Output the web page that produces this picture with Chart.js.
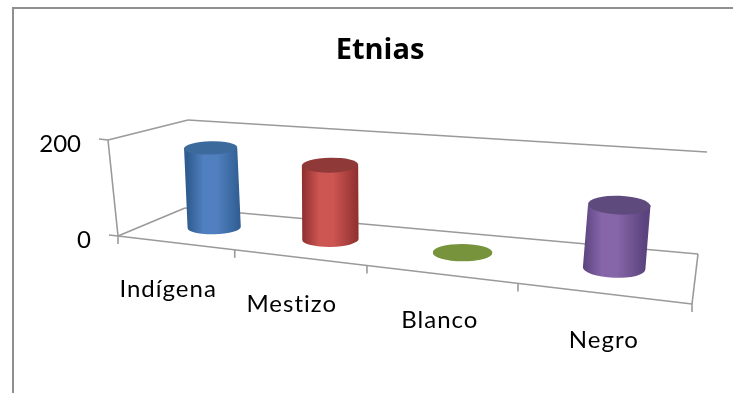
<!DOCTYPE html>
<html>
<head>
<meta charset="utf-8">
<title>Etnias</title>
<script src="https://cdn.jsdelivr.net/npm/chart.js@4"></script>
<style>
  html, body { margin: 0; padding: 0; background: #fff; overflow: hidden; }
  canvas { display: block; }
</style>
</head>
<body>
<canvas id="chart" width="733" height="393"></canvas>
<script>
const categories = ['Indígena', 'Mestizo', 'Blanco', 'Negro'];
const values = [172, 155, 1, 122];
const yTicks = [0, 200];

// center, edge and cap shade of each cylinder
const barColors = ['#5080bf', '#cd5552', '#7f9a48', '#8665a8'];
const edgeColors = ['#2f5c90', '#8e302e', '#77933c', '#5a437e'];
const capColors = ['#3c6a9c', '#8f3a38', '#77933c', '#5f4a7e'];

const AXIS_COLOR = '#9a9a9a';
const FONT = '"Lato", "Open Sans", sans-serif';

// Box corners on screen for the 3D look
const FRONT_L = [118, 236], FRONT_R = [692, 304];
const BACK_L = [185, 208], BACK_R = [698, 254];
const WALL_FL = [108, 140], WALL_BL = [188, 120], WALL_BR = [707, 152];
// Screen vector of a full-height (0..max) column at each floor corner
const UP_FL = [-10, -96], UP_FR = [14, -112], UP_BL = [-3, -88], UP_BR = [9, -102];
const PERSPECTIVE = -0.234;
const BAR_DEPTH = 0.6;
const BAR_SHIFT = [3, 3];
// Sideways nudge of each category label under the front edge
const LABEL_NUDGE = [-6.5, -7, 0, 2];

const lerp = (a, b, t) => [a[0] + (b[0] - a[0]) * t, a[1] + (b[1] - a[1]) * t];
const foreshorten = (u) => u * (1 + PERSPECTIVE) / (1 + PERSPECTIVE * u);

// u: 0..1 along the category axis, d: 0 front .. 1 back, v: 0..1 of the value axis
const project = (u, d, v) => {
  const t = foreshorten(u);
  const floor = lerp(lerp(FRONT_L, FRONT_R, t), lerp(BACK_L, BACK_R, t), d);
  const up = lerp(lerp(UP_FL, UP_FR, t), lerp(UP_BL, UP_BR, t), d);
  return [floor[0] + up[0] * v, floor[1] + up[1] * v];
};

const strokeLine = (ctx, a, b) => {
  ctx.beginPath();
  ctx.moveTo(a[0], a[1]);
  ctx.lineTo(b[0], b[1]);
  ctx.stroke();
};

const drawBox = (ctx, chart) => {
  const xScale = chart.scales.x;
  const yScale = chart.scales.y;
  const area = chart.chartArea;

  ctx.strokeStyle = AXIS_COLOR;
  ctx.lineWidth = 1.6;
  strokeLine(ctx, WALL_FL, FRONT_L);
  strokeLine(ctx, WALL_FL, WALL_BL);
  strokeLine(ctx, WALL_BL, WALL_BR);
  strokeLine(ctx, FRONT_L, BACK_L);
  strokeLine(ctx, BACK_L, BACK_R);
  strokeLine(ctx, BACK_R, FRONT_R);
  strokeLine(ctx, FRONT_L, FRONT_R);

  // Tick marks and labels of the value axis
  ctx.fillStyle = '#000';
  ctx.font = '24px ' + FONT;
  ctx.textAlign = 'right';
  ctx.textBaseline = 'middle';
  yScale.ticks.forEach((tick) => {
    const v = (area.bottom - yScale.getPixelForValue(tick.value)) / area.height;
    const p = lerp(FRONT_L, WALL_FL, v);
    strokeLine(ctx, [p[0] - 9, p[1] - 1], p);
    ctx.fillText(String(tick.value), p[0] - 27, p[1] + 4);
  });

  // Tick marks between the categories
  const n = categories.length;
  for (let i = 0; i <= n; i++) {
    const p = project(i / n, 0, 0);
    strokeLine(ctx, p, [p[0], p[1] + 8]);
  }

  // Category labels sit under the front edge
  ctx.textAlign = 'center';
  ctx.letterSpacing = '1px';
  categories.forEach((name, i) => {
    const u = (xScale.getPixelForValue(i) - area.left) / area.width;
    const p = project(u, 0, 0);
    ctx.fillText(name, p[0] + LABEL_NUDGE[i], p[1] + 46.5);
  });
  ctx.letterSpacing = '0px';
};

const drawCylinder = (ctx, chart, bar, i) => {
  const area = chart.chartArea;
  const u = (bar.x - area.left) / area.width;
  const v = (bar.base - bar.y) / area.height;
  const base = project(u, BAR_DEPTH, 0).map((c, k) => c + BAR_SHIFT[k]);
  const top = project(u, BAR_DEPTH, v).map((c, k) => c + BAR_SHIFT[k]);
  const rx = bar.width / 2 * (1 + 0.24 * u);
  const ry = rx * (0.24 + 0.07 * u);
  const tilt = 0.09 * u * u - 0.03;

  // Body: left side, round bottom, right side
  const grad = ctx.createLinearGradient(base[0] - rx, 0, base[0] + rx, 0);
  grad.addColorStop(0, edgeColors[i]);
  grad.addColorStop(0.3, barColors[i]);
  grad.addColorStop(0.55, barColors[i]);
  grad.addColorStop(1, edgeColors[i]);
  ctx.fillStyle = grad;
  ctx.beginPath();
  ctx.moveTo(top[0] - rx, top[1]);
  ctx.ellipse(base[0], base[1], rx, ry, tilt, Math.PI, 0, true);
  ctx.lineTo(top[0] + rx, top[1]);
  ctx.closePath();
  ctx.fill();

  // Cap
  ctx.fillStyle = capColors[i];
  ctx.beginPath();
  ctx.ellipse(top[0], top[1], rx, ry, tilt, 0, Math.PI * 2);
  ctx.fill();
};

const boxPlugin = {
  id: 'box3d',
  beforeDraw(chart) {
    const ctx = chart.ctx;
    ctx.save();
    // Outer chart frame, only its top and left edges fall inside the canvas
    ctx.fillStyle = '#fff';
    ctx.fillRect(0, 0, chart.width, chart.height);
    ctx.strokeStyle = '#8f8f8f';
    ctx.lineWidth = 2;
    ctx.beginPath();
    ctx.moveTo(13, chart.height);
    ctx.lineTo(13, 8);
    ctx.lineTo(chart.width, 8);
    ctx.stroke();
    ctx.restore();
  },
  beforeDatasetsDraw(chart) {
    const ctx = chart.ctx;
    ctx.save();
    drawBox(ctx, chart);
    chart.getDatasetMeta(0).data.forEach((bar, i) => drawCylinder(ctx, chart, bar, i));
    ctx.restore();
    return false;
  }
};

new Chart(document.getElementById('chart'), {
  type: 'bar',
  data: {
    labels: categories,
    datasets: [{
      label: 'Etnias',
      data: values,
      backgroundColor: barColors,
      barPercentage: 0.9,
      categoryPercentage: 0.4
    }]
  },
  options: {
    responsive: false,
    animation: false,
    layout: { padding: { left: 68, right: 41, top: 0, bottom: 157 } },
    scales: {
      x: { display: false },
      y: {
        min: 0,
        max: 200,
        afterBuildTicks(scale) {
          scale.ticks = yTicks.map((value) => ({ value }));
        },
        afterFit(scale) { scale.width = 50; },
        ticks: { display: false },
        grid: { display: false },
        border: { display: false }
      }
    },
    plugins: {
      legend: { display: false },
      tooltip: { enabled: false },
      title: {
        display: true,
        text: 'Etnias',
        color: '#000',
        font: { family: '"Open Sans", sans-serif', size: 29, weight: 'bold' },
        padding: { top: 33, bottom: 72.2 }
      }
    }
  },
  plugins: [boxPlugin]
});
</script>
</body>
</html>
